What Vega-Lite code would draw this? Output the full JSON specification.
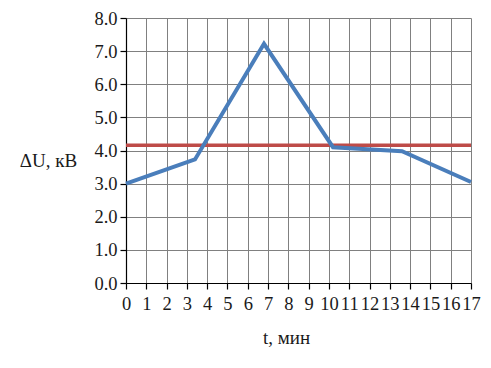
{
  "$schema": "https://vega.github.io/schema/vega-lite/v6.json",
  "width": 345,
  "height": 265,
  "autosize": {"type": "none"},
  "padding": {"left": 126, "top": 18, "right": 20, "bottom": 85},
  "background": "white",
  "config": {
    "view": {"stroke": null},
    "font": "Liberation Serif"
  },
  "datasets": {
    "u": [
      {"t": 0, "du": 3.0},
      {"t": 3.4, "du": 3.73},
      {"t": 6.8, "du": 7.22},
      {"t": 10.2, "du": 4.1},
      {"t": 13.6, "du": 3.98},
      {"t": 17, "du": 3.05}
    ],
    "lim": [
      {"t": 0, "du": 4.16},
      {"t": 17, "du": 4.16}
    ]
  },
  "encoding": {
    "x": {
      "field": "t", "type": "quantitative",
      "scale": {"domain": [0, 17], "nice": false},
      "axis": {
        "values": [0,1,2,3,4,5,6,7,8,9,10,11,12,13,14,15,16,17],
        "labelOverlap": false,
        "labelPadding": 5,
        "labelFlush": false,
        "labelFont": "Liberation Serif",
        "labelFontSize": 18.5,
        "labelColor": "#1a1a1a",
        "gridColor": "#808080",
        "gridOpacity": 1,
        "domainColor": "#000000",
        "domainWidth": 1.2,
        "tickColor": "#000000",
        "tickSize": 6,
        "tickWidth": 1.2,
        "title": "t, мин",
        "titleFont": "Liberation Serif",
        "titleFontSize": 19,
        "titleFontWeight": "normal",
        "titleColor": "#1a1a1a",
        "titleAnchor": null,
        "titleX": 160,
        "titleY": 60,
        "titleAlign": "center",
        "titleBaseline": "alphabetic"
      }
    },
    "y": {
      "field": "du", "type": "quantitative",
      "scale": {"domain": [0, 8], "nice": false},
      "axis": {
        "values": [0,1,2,3,4,5,6,7,8],
        "format": ".1f",
        "labelPadding": 3,
        "labelFlush": false,
        "labelFont": "Liberation Serif",
        "labelFontSize": 18.5,
        "labelColor": "#1a1a1a",
        "gridColor": "#808080",
        "gridOpacity": 1,
        "domainColor": "#000000",
        "domainWidth": 1.2,
        "tickColor": "#000000",
        "tickSize": 6,
        "tickWidth": 1.2,
        "title": "ΔU, кВ",
        "titleFont": "Liberation Serif",
        "titleFontSize": 19,
        "titleFontWeight": "normal",
        "titleColor": "#1a1a1a",
        "titleAngle": 0,
        "titleX": -78,
        "titleY": 142,
        "titleAlign": "center",
        "titleBaseline": "middle"
      }
    }
  },
  "layer": [
    {
      "data": {"name": "lim"},
      "mark": {"type": "line", "color": "#be4b48", "strokeWidth": 3.5}
    },
    {
      "data": {"name": "u"},
      "mark": {"type": "line", "color": "#4a7ebb", "strokeWidth": 4}
    }
  ]
}
